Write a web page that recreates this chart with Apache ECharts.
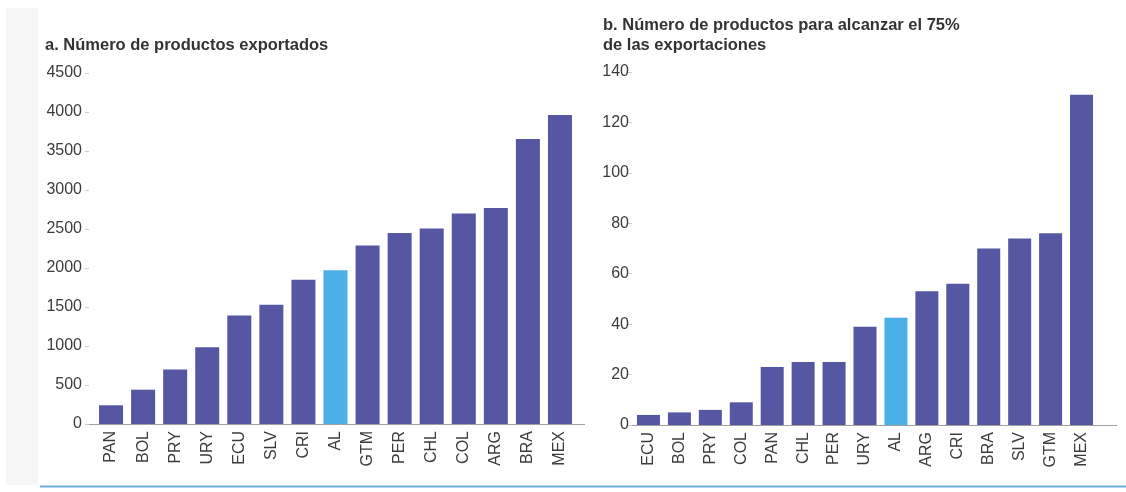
<!DOCTYPE html>
<html>
<head>
<meta charset="utf-8">
<script src="https://cdn.jsdelivr.net/npm/echarts@6/dist/echarts.min.js"></script>
<style>
  html, body { margin: 0; padding: 0; background: #fff; }
  #chart { width: 1126px; height: 492px; }
</style>
</head>
<body>
<div id="chart"></div>
<script>
// a. Número de productos exportados
const countriesA = ["PAN", "BOL", "PRY", "URY", "ECU", "SLV", "CRI", "AL", "GTM", "PER", "CHL", "COL", "ARG", "BRA", "MEX"];
const valuesA = [240, 440, 700, 985, 1390, 1530, 1850, 1970, 2290, 2450, 2505, 2700, 2770, 3655, 3960];

// b. Número de productos para alcanzar el 75% de las exportaciones
const countriesB = ["ECU", "BOL", "PRY", "COL", "PAN", "CHL", "PER", "URY", "AL", "ARG", "CRI", "BRA", "SLV", "GTM", "MEX"];
const valuesB = [4, 5, 6, 9, 23, 25, 25, 39, 42.5, 53, 56, 70, 74, 76, 131];

const BAR = "#5557a3";
const HIGHLIGHT = "#4bb0ea";
const TEXT = "#3c3c3c";
const FONT = "Liberation Sans, Arial";

const toData = (cats, vals) =>
  vals.map((v, i) => ({
    value: v,
    itemStyle: { color: cats[i] === "AL" ? HIGHLIGHT : BAR },
  }));

const xAxisBase = {
  type: "category",
  axisLine: { show: false },
  axisTick: { show: false },
  axisLabel: { rotate: 90, color: TEXT, fontSize: 16, fontFamily: FONT, margin: 7 },
};
const yAxisBase = {
  type: "value",
  min: 0,
  splitLine: { show: false },
  axisLine: { show: false },
  axisTick: { show: true, length: 4, lineStyle: { color: "#ccc" } },
  axisLabel: { color: TEXT, fontSize: 16, fontFamily: FONT, formatter: (v) => String(v) },
};

const titleStyle = { fontSize: 16.5, fontWeight: "bold", color: "#333", lineHeight: 20, fontFamily: FONT };

const chart = echarts.init(document.getElementById("chart"));
chart.setOption({
  animation: false,
  title: [
    { text: "a. Número de productos exportados", left: 45, top: 35, padding: 0, textStyle: titleStyle },
    {
      text: "b. Número de productos para alcanzar el 75%\nde las exportaciones",
      left: 603, top: 15, padding: 0, textStyle: titleStyle,
    },
  ],
  graphic: [
    { type: "rect", shape: { x: 6, y: 8, width: 32, height: 477 }, style: { fill: "#f6f6f6" }, z: -10 },
    { type: "line", shape: { x1: 86, y1: 424.5, x2: 585, y2: 424.5 }, style: { stroke: "#a0a0a0", lineWidth: 1 } },
    { type: "line", shape: { x1: 627, y1: 425.5, x2: 1117, y2: 425.5 }, style: { stroke: "#a0a0a0", lineWidth: 1 } },
    { type: "line", shape: { x1: 40, y1: 486.5, x2: 1126, y2: 486.5 }, style: { stroke: "#6aaede", lineWidth: 2 } },
  ],
  grid: [
    { left: 95, width: 481, top: 73, height: 351 },
    { left: 633, width: 464, top: 72, height: 353 },
  ],
  xAxis: [
    Object.assign({}, xAxisBase, { gridIndex: 0, data: countriesA }),
    Object.assign({}, xAxisBase, { gridIndex: 1, data: countriesB }),
  ],
  yAxis: [
    Object.assign({}, yAxisBase, { gridIndex: 0, max: 4500, interval: 500, offset: 6,
      axisLabel: Object.assign({}, yAxisBase.axisLabel, { margin: 7 }) }),
    Object.assign({}, yAxisBase, { gridIndex: 1, max: 140, interval: 20, offset: 1,
      axisLabel: Object.assign({}, yAxisBase.axisLabel, { margin: 3 }) }),
  ],
  series: [
    { type: "bar", xAxisIndex: 0, yAxisIndex: 0, barWidth: 24, data: toData(countriesA, valuesA) },
    { type: "bar", xAxisIndex: 1, yAxisIndex: 1, barWidth: 23, data: toData(countriesB, valuesB) },
  ],
});
</script>
</body>
</html>
